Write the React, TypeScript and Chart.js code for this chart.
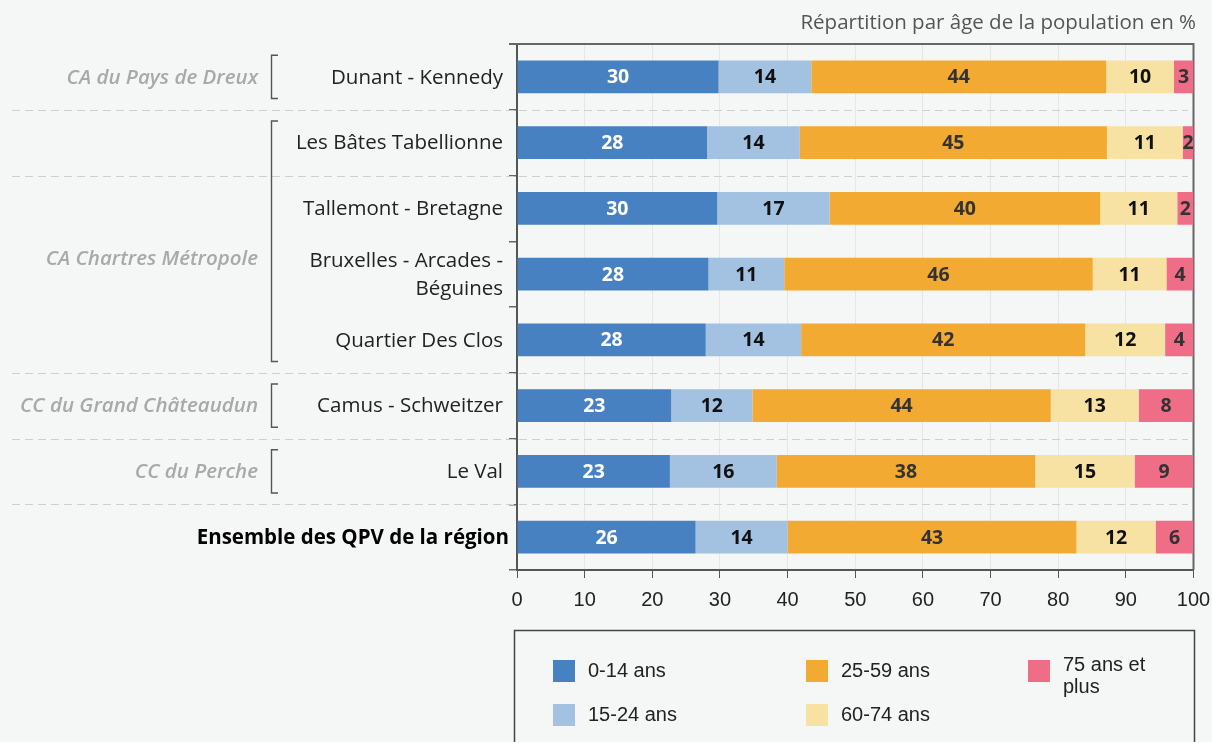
import React, { useEffect, useRef } from 'react';
import { Chart, registerables } from 'chart.js';

Chart.register(...registerables);

// ---------- data ----------
const categories: (string | string[])[] = [
  'Dunant - Kennedy',
  'Les Bâtes Tabellionne',
  'Tallemont - Bretagne',
  ['Bruxelles - Arcades -', 'Béguines'],
  'Quartier Des Clos',
  'Camus - Schweitzer',
  'Le Val',
  'Ensemble des QPV de la région',
];
const seriesNames = ['0-14 ans', '15-24 ans', '25-59 ans', '60-74 ans', '75 ans et plus'];
const age0_14 = [29.8, 28.1, 29.6, 28.3, 27.9, 22.8, 22.6, 26.4];
const age15_24 = [13.7, 13.7, 16.6, 11.2, 14.1, 12.0, 15.8, 13.6];
const age25_59 = [43.6, 45.4, 40.0, 45.6, 42.0, 44.1, 38.2, 42.7];
const age60_74 = [10.0, 11.2, 11.4, 10.9, 11.8, 13.0, 14.7, 11.7];
const age75plus = [2.9, 1.6, 2.4, 4.0, 4.2, 8.1, 8.7, 5.6];
const xTickValues = [0, 10, 20, 30, 40, 50, 60, 70, 80, 90, 100];
const groupLabels = ['CA du Pays de Dreux', 'CA Chartres Métropole', 'CC du Grand Châteaudun', 'CC du Perche'];
const groupFirst = [0, 1, 5, 6];
const groupLast = [0, 4, 5, 6];
const separatorsAfter = [0, 1, 4, 5, 6];
const titleText = 'Répartition par âge de la population en %';
const totalIndex = categories.length - 1; // the bold "Ensemble" row

// ---------- styles ----------
const COLORS = ['#4881c1', '#a3c1e0', '#f2aa33', '#f7e2a3', '#ef6d86'];
const LABEL_COLORS = ['#ffffff', '#111111', '#333333', '#111111', '#333333'];
const BG = '#f5f6f6';
const SANS = '"Open Sans", "Noto Sans", sans-serif';
const NARROW = '"Liberation Sans Narrow", "Arial Narrow", "Liberation Sans", sans-serif';

const decorPlugin = {
  id: 'decor',
  beforeDatasetsDraw(chart: any) {
    const ctx = chart.ctx;
    const y = chart.scales.y;
    const area = chart.chartArea;
    const half = (y.getPixelForValue(1) - y.getPixelForValue(0)) / 2;
    ctx.save();
    // dashed separators
    ctx.strokeStyle = '#cfcfcf';
    ctx.lineWidth = 1.2;
    ctx.setLineDash([8, 5]);
    separatorsAfter.forEach((i) => {
      const py = Math.round(y.getPixelForValue(i) + half) + 0.5;
      ctx.beginPath();
      ctx.moveTo(12, py);
      ctx.lineTo(1188, py);
      ctx.stroke();
    });
    ctx.setLineDash([]);
    // frame top & right
    ctx.strokeStyle = '#666';
    ctx.lineWidth = 2;
    ctx.beginPath();
    ctx.moveTo(area.left - 8, area.top);
    ctx.lineTo(area.right, area.top);
    ctx.lineTo(area.right, area.bottom);
    ctx.stroke();
    ctx.restore();
  },
  afterDraw(chart: any) {
    const ctx = chart.ctx;
    const y = chart.scales.y;
    const half = (y.getPixelForValue(1) - y.getPixelForValue(0)) / 2;
    ctx.save();
    // title
    ctx.font = `20.5px ${SANS}`;
    ctx.fillStyle = '#555';
    ctx.textAlign = 'right';
    ctx.textBaseline = 'middle';
    ctx.fillText(titleText, 1196, 23);

    // bold total row label
    ctx.font = `bold 20.5px ${SANS}`;
    ctx.fillStyle = '#000';
    ctx.fillText(categories[totalIndex] as string, 509, y.getPixelForValue(totalIndex) + 1);

    // groups and brackets
    groupLabels.forEach((label, g) => {
      const top = y.getPixelForValue(groupFirst[g]) - half * 0.66;
      const bot = y.getPixelForValue(groupLast[g]) + half * 0.66;
      ctx.strokeStyle = '#555';
      ctx.lineWidth = 1.4;
      ctx.beginPath();
      ctx.moveTo(278, top);
      ctx.lineTo(271.5, top);
      ctx.lineTo(271.5, bot);
      ctx.lineTo(278, bot);
      ctx.stroke();
      let ly = (y.getPixelForValue(groupFirst[g]) + y.getPixelForValue(groupLast[g])) / 2;
      if (groupLast[g] - groupFirst[g] > 1) ly += half * 0.52;
      ctx.font = `italic 600 20.5px ${SANS}`;
      ctx.fillStyle = '#a9a9a9';
      ctx.textAlign = 'right';
      ctx.fillText(label, 258, ly + 1);
    });

    // legend box
    ctx.strokeStyle = '#444';
    ctx.lineWidth = 1.5;
    ctx.strokeRect(514.5, 630.5, 680, 200);
    const cols = [553, 806, 1028];
    const rows = [660, 704];
    ctx.font = `20px ${NARROW}`;
    ctx.textAlign = 'left';
    ctx.textBaseline = 'middle';
    seriesNames.forEach((name, i) => {
      const cx = cols[Math.floor(i / 2)];
      const cy = rows[i % 2];
      ctx.fillStyle = COLORS[i];
      ctx.fillRect(cx, cy, 22, 22);
      ctx.fillStyle = '#222';
      // simple word wrap
      const words = name.split(' ');
      const lines: string[] = [];
      let cur = '';
      words.forEach((w) => {
        const test = cur ? cur + ' ' + w : w;
        if (ctx.measureText(test).width > 100 && cur) {
          lines.push(cur);
          cur = w;
        } else cur = test;
      });
      lines.push(cur);
      if (lines.length === 1) {
        ctx.fillText(lines[0], cx + 35, cy + 11);
      } else {
        lines.forEach((l, k) => ctx.fillText(l, cx + 35, cy + 5 + k * 22));
      }
    });
    ctx.restore();
  },
  afterDatasetsDraw(chart: any) {
    const ctx = chart.ctx;
    ctx.save();
    ctx.font = `bold 19.5px ${SANS}`;
    ctx.textAlign = 'center';
    ctx.textBaseline = 'middle';
    chart.data.datasets.forEach((ds: any, di: number) => {
      const meta = chart.getDatasetMeta(di);
      meta.data.forEach((el: any, i: number) => {
        const v = ds.data[i];
        ctx.fillStyle = LABEL_COLORS[di];
        ctx.fillText(String(Math.round(v)), (el.x + el.base) / 2, el.y + 1);
      });
    });
    ctx.restore();
  },
};

export default function App() {
  const ref = useRef<HTMLCanvasElement>(null);
  useEffect(() => {
    if (!ref.current) return;
    const series = [age0_14, age15_24, age25_59, age60_74, age75plus];
    const chart = new Chart(ref.current, {
      type: 'bar',
      data: {
        labels: categories as any,
        datasets: series.map((d, i) => ({
          label: seriesNames[i],
          data: d,
          backgroundColor: COLORS[i],
          borderWidth: 0,
          barPercentage: 0.5,
          categoryPercentage: 1,
        })),
      },
      options: {
        indexAxis: 'y',
        responsive: false,
        animation: false,
        devicePixelRatio: 1,
        layout: { padding: { left: 0, right: 18.5, top: 44, bottom: 0 } },
        plugins: { legend: { display: false }, tooltip: { enabled: false } },
        scales: {
          x: {
            stacked: true,
            min: 0,
            max: 100,
            afterBuildTicks: (s: any) => {
              s.ticks = xTickValues.map((v) => ({ value: v }));
            },
            ticks: {
              font: { family: NARROW, size: 20 },
              color: '#222',
              padding: 10,
              maxRotation: 0,
            },
            grid: {
              color: '#e6e6e6',
              tickColor: '#555',
              tickLength: 8,
              lineWidth: 1,
            },
            border: { color: '#555', width: 2 },
            afterFit: (s: any) => {
              s.height = 172;
              s.paddingLeft = 0;
              s.paddingRight = 0;
            },
          },
          y: {
            stacked: true,
            ticks: {
              font: { family: SANS, size: 20.5, lineHeight: 1.38 },
              color: '#222',
              padding: 6,
              labelOffset: 1,
              autoSkip: false,
              callback: (_v: any, i: number) => (i === totalIndex ? '' : categories[i]),
            },
            grid: {
              drawOnChartArea: false,
              tickLength: 8,
              tickColor: '#666',
              lineWidth: 1.5,
            },
            border: { color: '#555', width: 2 },
            afterFit: (s: any) => {
              s.width = 517;
            },
          },
        },
      },
      plugins: [decorPlugin],
    });
    const fonts = [
      `20.5px "Open Sans"`,
      `bold 19.5px "Open Sans"`,
      `italic 600 20.5px "Open Sans"`,
      `20px "Liberation Sans Narrow"`,
    ];
    Promise.all(fonts.map((f) => (document as any).fonts.load(f).catch(() => null))).then(() => {
      try {
        chart.update();
      } catch (e) {}
    });
    return () => chart.destroy();
  }, []);
  return (
    <div style={{ position: 'fixed', left: 0, top: 0, width: 1212, height: 742, background: BG }}>
      <canvas ref={ref} width={1212} height={742} style={{ display: 'block', width: 1212, height: 742 }} />
    </div>
  );
}
